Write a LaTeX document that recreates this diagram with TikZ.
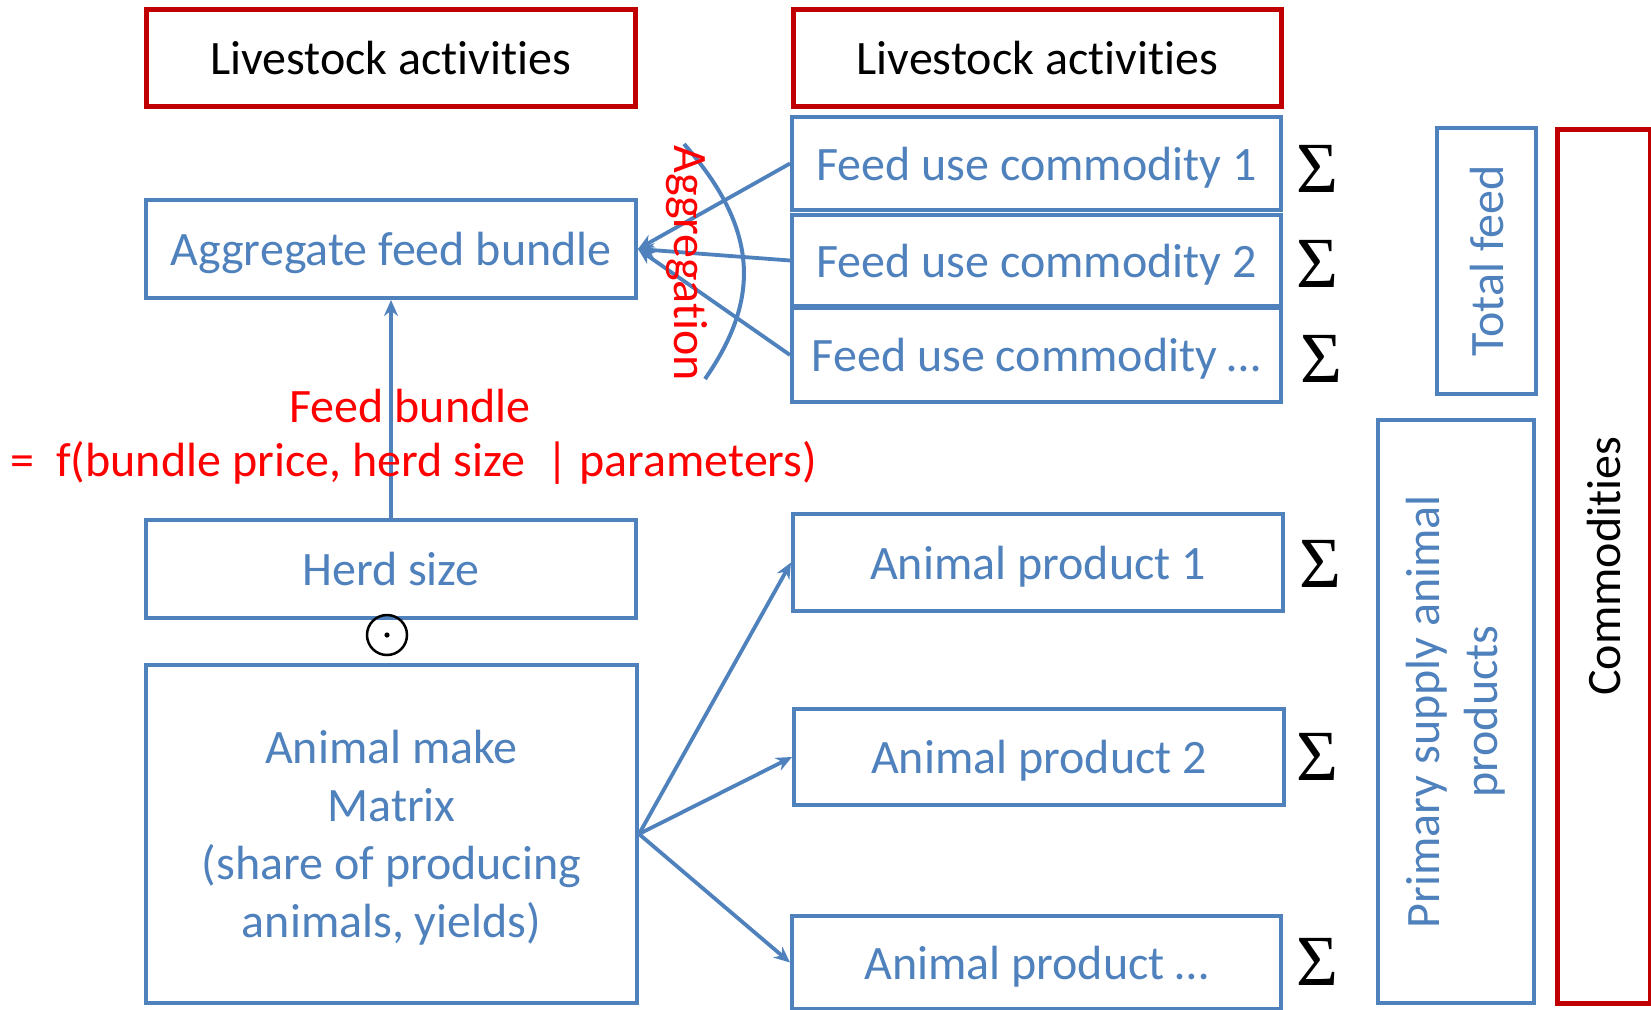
\documentclass[tikz,border=0pt]{standalone}
\usepackage{fontspec}
\setmainfont{Carlito}[Ligatures=NoCommon]
\newfontfamily\sigfont{Liberation Serif}
\usetikzlibrary{arrows.meta}
\definecolor{boxblue}{RGB}{79,129,189}
\definecolor{boxred}{RGB}{192,0,0}
\definecolor{txtred}{RGB}{255,0,0}
\begin{document}
\begin{tikzpicture}[x=1pt,y=-1pt,
  every node/.style={font=\fontsize{48}{58}\selectfont},
  bluebox/.style={draw=boxblue, line width=4pt, text=boxblue, inner sep=0pt,
                  anchor=north west, align=center, text depth=0pt},
  redbox/.style={draw=boxred, line width=4.5pt, text=black, inner sep=0pt,
                 anchor=north west, align=center, text depth=0pt},
  arr/.style={draw=boxblue, line width=3.8pt, -{Stealth[length=16pt,width=14pt]}},
  sigmanode/.style={font=\sigfont\fontsize{72}{72}\selectfont, text=black, inner sep=0pt},
  redtext/.style={text=txtred, inner sep=0pt}]
\useasboundingbox (0,0) rectangle (1651,1009);

% header boxes
\node[redbox, minimum width=489pt, minimum height=97pt] (la) at (144,7) {Livestock activities};
\node[redbox, minimum width=488pt, minimum height=97pt] (lb) at (791,7) {Livestock activities};

% feed use commodities
\node[bluebox, minimum width=489pt, minimum height=93pt] (f1) at (790,115) {Feed use commodity 1};
\node[bluebox, minimum width=489pt, minimum height=91pt] (f2) at (790,213) {Feed use commodity 2};
\node[bluebox, minimum width=489pt, minimum height=94pt] (f3) at (790,306) {Feed use commodity \dots};

% left column
\node[bluebox, minimum width=490pt, minimum height=98pt] (agg) at (144,198) {Aggregate feed bundle};
\node[bluebox, minimum width=490pt, minimum height=98pt] (herd) at (144,518) {Herd size};
\node[bluebox, minimum width=491pt, minimum height=338pt] (amm) at (144,663)
  {Animal make\\Matrix\\(share of producing\\animals, yields)};

% animal products
\node[bluebox, minimum width=490pt, minimum height=97pt] (ap1) at (791,512) {Animal product 1};
\node[bluebox, minimum width=490pt, minimum height=96pt] (ap2) at (792,707) {Animal product 2};
\node[bluebox, minimum width=489pt, minimum height=93pt] (ap3) at (790,914) {Animal product \dots};

% summation signs
\node[sigmanode] (s1) at (1317,169) {Σ};
\node[sigmanode] (s2) at (1317,264) {Σ};
\node[sigmanode] (s3) at (1321,359) {Σ};
\node[sigmanode] (s4) at (1320,564) {Σ};
\node[sigmanode] (s5) at (1317,757) {Σ};
\node[sigmanode] (s6) at (1317,962) {Σ};

% totals and commodities
\node[bluebox, minimum width=99pt, minimum height=266pt] (tf) at (1435,126) {};
\node[text=boxblue, rotate=90] (tft) at (tf.center) {Total feed};
\node[bluebox, minimum width=156pt, minimum height=583pt] (psa) at (1376,418) {};
\node[text=boxblue, rotate=90, align=center, inner sep=0pt] (psat) at (psa.center)
  {Primary supply animal\\products};
\node[redbox, minimum width=93pt, minimum height=874pt] (com) at (1555,127) {};
\node[text=black, rotate=90] (comt) at (com.center) {Commodities};

% aggregation of feed uses
\draw[arr] (f1.west) -- (agg.east);
\draw[arr] (f2.west) -- (agg.east);
\draw[arr] (f3.west) -- (agg.east);
\coordinate (arcA) at (684,144);
\coordinate (arcB) at (705,379);
\draw[boxblue, line width=4pt] (arcA) .. controls (760,230) and (760,300) .. (arcB);
\node[redtext, rotate=-90] (aggt) at (687,263) {Aggregation};

% feed bundle relation
\draw[arr] (herd.north) -- (agg.south);
\node[redtext] (fb1) at (410,406) {Feed bundle};
\node[redtext] (fb2) at (414,463) {=\ \ f(bundle price, herd size\ \ | parameters)};

% element-wise product
\node[circle, draw=black, line width=2.5pt, minimum size=40pt, inner sep=0pt] (odot) at (387,635) {};
\fill[black] (odot.center) circle (2.6pt);

% animal products from the make matrix
\draw[arr] (amm.east) -- (ap1.west);
\draw[arr] (amm.east) -- (ap2.west);
\draw[arr] (amm.east) -- (ap3.west);
\end{tikzpicture}
\end{document}
